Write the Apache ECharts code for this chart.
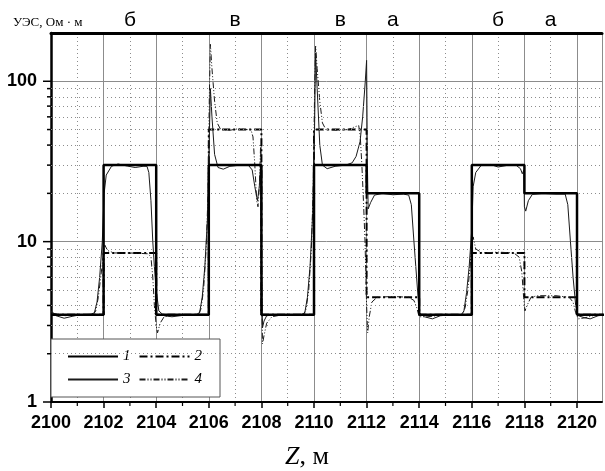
<!DOCTYPE html>
<html><head><meta charset="utf-8">
<script src="https://cdn.jsdelivr.net/npm/echarts@6/dist/echarts.min.js"></script>
<style>html,body{margin:0;padding:0;background:#fff}#c{width:605px;height:471px}</style>
</head><body><div id="c"></div>
<script>
// ---- data ----
const depthModel = [2100,2102,2102,2104,2104,2106,2106,2108,2108,2110,2110,2112,2112,2114,2114,2116,2116,2118,2118,2120,2120,2122];
const model1 = [3.5,3.5,30,30,3.5,3.5,30,30,3.5,3.5,30,30,20,20,3.5,3.5,30,30,20,20,3.5,3.5];
const model2 = [3.5,3.5,8.5,8.5,3.5,3.5,50,50,3.5,3.5,50,50,4.5,4.5,3.5,3.5,8.5,8.5,4.5,4.5,3.5,3.5];

const depth3 = [2100,2100.2,2100.5,2100.8,2101.1,2101.5,2101.65,2101.75,2101.85,2101.95,2102.02,2102.1,2102.3,2102.55,2102.9,2103.2,2103.5,2103.65,2103.72,2103.8,2103.87,2103.93,2104.0,2104.1,2104.3,2104.6,2104.9,2105.2,2105.5,2105.65,2105.75,2105.85,2105.95,2106.02,2106.06,2106.12,2106.22,2106.35,2106.55,2106.8,2107.2,2107.5,2107.65,2107.75,2107.85,2107.92,2107.97,2108.0,2108.04,2108.1,2108.2,2108.5,2109.5,2109.65,2109.75,2109.85,2109.95,2110.02,2110.06,2110.12,2110.22,2110.32,2110.5,2110.8,2111.2,2111.45,2111.6,2111.75,2111.85,2111.95,2112.0,2112.03,2112.06,2112.15,2112.3,2112.6,2113.0,2113.4,2113.6,2113.7,2113.8,2113.9,2114.0,2114.2,2114.5,2114.8,2115.2,2115.6,2115.7,2115.8,2115.9,2116.0,2116.05,2116.15,2116.35,2116.7,2117.0,2117.4,2117.7,2117.85,2117.92,2117.98,2118.0,2118.05,2118.15,2118.3,2118.7,2119.2,2119.55,2119.65,2119.75,2119.85,2119.95,2120.05,2120.3,2120.5,2120.8,2121.1,2122];
const curve3 = [3.7,3.45,3.33,3.42,3.5,3.52,3.6,4.2,6,10,20,26,29.5,30.5,29.6,29,29.5,29.5,27,18,10,7,5,3.7,3.45,3.4,3.45,3.5,3.5,3.6,4.5,7,14,45,90,60,35,29,28.3,29.5,30,30,28,22,18,22,30,8,2.9,3.2,3.45,3.5,3.5,3.6,4.5,7,15,50,150,90,40,30,28.5,29.5,30,31,34,42,60,100,135,30,16,17.5,19.5,20,19.6,19.8,19.5,17,10,6,3.6,3.4,3.3,3.45,3.5,3.5,3.7,4.8,7,12,22,27,29.8,30.3,29.2,30,29.8,28.5,26.5,28,16.5,15.5,18,19.7,20,19.8,19.8,17,10,6,4,3.45,3.35,3.3,3.45,3.5,3.5];

const depth4 = [2100,2100.5,2101,2101.6,2101.7,2101.8,2101.9,2102.0,2102.05,2102.15,2102.4,2103.0,2103.7,2103.8,2103.87,2103.93,2104.0,2104.05,2104.15,2104.3,2104.6,2105.0,2105.6,2105.7,2105.8,2105.9,2105.97,2106.02,2106.06,2106.12,2106.22,2106.32,2106.45,2106.8,2107.1,2107.4,2107.6,2107.68,2107.75,2107.82,2107.87,2107.92,2107.97,2108.0,2108.04,2108.1,2108.2,2108.4,2108.8,2109.6,2109.7,2109.8,2109.9,2109.97,2110.02,2110.06,2110.12,2110.22,2110.32,2110.45,2110.9,2111.3,2111.55,2111.7,2111.76,2111.82,2111.88,2111.94,2112.0,2112.04,2112.1,2112.2,2112.4,2113.0,2113.6,2113.8,2113.9,2114.0,2114.3,2114.7,2115.2,2115.65,2115.75,2115.85,2115.95,2116.0,2116.05,2116.15,2116.4,2117.0,2117.6,2117.8,2117.9,2117.97,2118.02,2118.1,2118.25,2118.5,2119.2,2119.7,2119.85,2119.95,2120.05,2120.3,2120.6,2121.1,2122];
const curve4 = [3.6,3.45,3.5,3.5,3.7,4.5,6.2,8.4,9.5,8.8,8.5,8.5,8.4,8,6,4,3,2.7,3.1,3.4,3.45,3.5,3.5,3.8,5,9,20,80,170,120,75,55,50,49.5,50.5,50,50,45,30,18,16.5,22,40,12,2.3,2.6,3.1,3.4,3.5,3.5,3.8,5,9,22,80,168,120,75,55,50,49.5,50,52,53,45,30,18,10,4,2.7,3.4,4.2,4.5,4.55,4.5,4.3,3.9,3.4,3.4,3.45,3.5,3.5,3.9,5,7.5,9.5,10.7,9,8.5,8.6,8.5,8,6.5,4.5,3.7,4,4.5,4.6,4.6,4.5,4.2,3.6,3.3,3.35,3.45,3.5,3.5];

const seriesNames = ['1','2','3','4'];
const yTickValues = [1,10,100];
const yMinorValues = [2,3,4,5,6,7,8,9,20,30,40,50,60,70,80,90];
const xTickLabels = [2100,2102,2104,2106,2108,2110,2112,2114,2116,2118,2120];
const xMinorTicks = [2101,2103,2105,2107,2109,2111,2113,2115,2117,2119];
const topLabelDepths = [2103,2107,2111,2113,2117,2119];
const topLabels = ['б','в','в','а','б','а'];
const yTitle = 'УЭС, Ом · м';
const xTitle = '{i|Z}, м';

// ---- build ----
const zip = (xs, ys) => xs.map((x, i) => [x, ys[i]]);
const chart = echarts.init(document.getElementById('c'), null, {renderer: 'canvas'});
const gridColor = '#8c8c8c';
const X_MIN = 2100, X_MAX = 2120.95;

chart.setOption({
  animation: false,
  backgroundColor: '#fff',
  title: [
    {text: xTitle, left: 285, top: 444, padding: 0,
     textStyle: {fontFamily: 'Liberation Serif', fontSize: 26, fontWeight: 'normal', color: '#000',
       rich: {i: {fontFamily: 'Liberation Serif', fontStyle: 'italic', fontSize: 26, color: '#000'}}}},
    {text: yTitle, left: 13, top: 16, padding: 0,
     textStyle: {fontFamily: 'Liberation Serif', fontSize: 13, fontWeight: 'normal', color: '#000'}}
  ],
  grid: {left: 51, top: 33, right: 0, bottom: 69, containLabel: false},
  legend: {
    data: seriesNames, left: 51, top: 339, width: 180, orient: 'horizontal',
    padding: [10, 18, 10, 16], itemWidth: 50, itemHeight: 17, itemGap: 8,
    backgroundColor: '#fff', borderColor: '#555', borderWidth: 1, borderRadius: 0,
    selectedMode: false,
    itemStyle: {color: 'rgba(0,0,0,0)', borderWidth: 0, opacity: 0},
    textStyle: {fontFamily: 'Liberation Serif', fontStyle: 'italic', fontSize: 15, color: '#000'}
  },
  xAxis: [
    {type: 'value', position: 'bottom', min: X_MIN, max: X_MAX, interval: 2,
     axisLine: {lineStyle: {color: '#000', width: 2}},
     axisTick: {length: 6, lineStyle: {color: '#000', width: 1.5}},
     axisLabel: {margin: 12, color: '#000', fontSize: 18, fontWeight: 'bold', fontFamily: 'Liberation Sans',
       showMaxLabel: false,
       formatter: v => xTickLabels.includes(v) ? String(v) : ''},
     splitLine: {show: true, lineStyle: {color: gridColor, width: 1}}
    },
    {type: 'value', position: 'top', min: X_MIN, max: X_MAX, interval: 1,
     axisLine: {lineStyle: {color: '#000', width: 3}},
     axisTick: {show: false},
     axisLabel: {margin: 2, color: '#000', fontSize: 21, fontFamily: 'Liberation Sans',
       formatter: v => { const i = topLabelDepths.indexOf(v); return i >= 0 ? topLabels[i] : ''; }},
     splitLine: {show: true, lineStyle: {color: gridColor, width: 1, type: [1, 3]}}
    }
  ],
  yAxis: {
    type: 'log', logBase: 10, min: 1, max: 200,
    axisLine: {show: true, lineStyle: {color: '#000', width: 2.5}},
    axisTick: {show: false},
    axisLabel: {margin: 14, color: '#000', fontSize: 18, fontWeight: 'bold', fontFamily: 'Liberation Sans',
      formatter: v => yTickValues.some(t => Math.abs(t - v) < 1e-6) ? String(Math.round(v)) : ''},
    splitLine: {show: true, lineStyle: {color: gridColor, width: 1}}
  },
  series: [
    {type: 'line', data: [], z: 1, silent: true,
     markLine: {silent: true, symbol: ['none', 'none'], label: {show: false}, animation: false,
       lineStyle: {color: gridColor, width: 1, type: [1, 3]},
       emphasis: {disabled: true},
       data: yMinorValues.map(v => ({yAxis: v}))}},
    {type: 'custom', clip: false, silent: true, z: 6,
     data: [...yTickValues.map(v => [X_MIN, v, 8]), ...yMinorValues.map(v => [X_MIN, v, 4])],
     encode: {x: 0, y: 1},
     renderItem: (params, api) => {
       const p = api.coord([api.value(0), api.value(1)]);
       const len = api.value(2);
       return {type: 'line', shape: {x1: p[0] - len, y1: p[1], x2: p[0], y2: p[1]},
               style: {stroke: '#000', lineWidth: 1.5}};
     }},
    {type: 'custom', clip: false, silent: true, z: 6,
     data: xMinorTicks.map(v => [v, 1]),
     encode: {x: 0, y: 1},
     renderItem: (params, api) => {
       const p = api.coord([api.value(0), api.value(1)]);
       return {type: 'line', shape: {x1: p[0], y1: p[1], x2: p[0], y2: p[1] + 4},
               style: {stroke: '#000', lineWidth: 1.2}};
     }},
    {name: seriesNames[1], type: 'line', data: zip(depthModel, model2), symbol: 'none', z: 3,
     lineStyle: {color: '#000', width: 2, type: [8, 3, 2, 3]}, itemStyle: {color: '#000'}},
    {name: seriesNames[3], type: 'line', data: zip(depth4, curve4), symbol: 'none', z: 3,
     lineStyle: {color: '#1a1a1a', width: 1, type: [6, 2, 1, 2, 1, 2]}, itemStyle: {color: '#1a1a1a'}},
    {name: seriesNames[2], type: 'line', data: zip(depth3, curve3), symbol: 'none', z: 4,
     lineStyle: {color: '#1a1a1a', width: 1}, itemStyle: {color: '#1a1a1a'}},
    {name: seriesNames[0], type: 'line', data: zip(depthModel, model1), symbol: 'none', z: 5,
     lineStyle: {color: '#000', width: 2.5}, itemStyle: {color: '#000'}}
  ]
});
</script></body></html>
